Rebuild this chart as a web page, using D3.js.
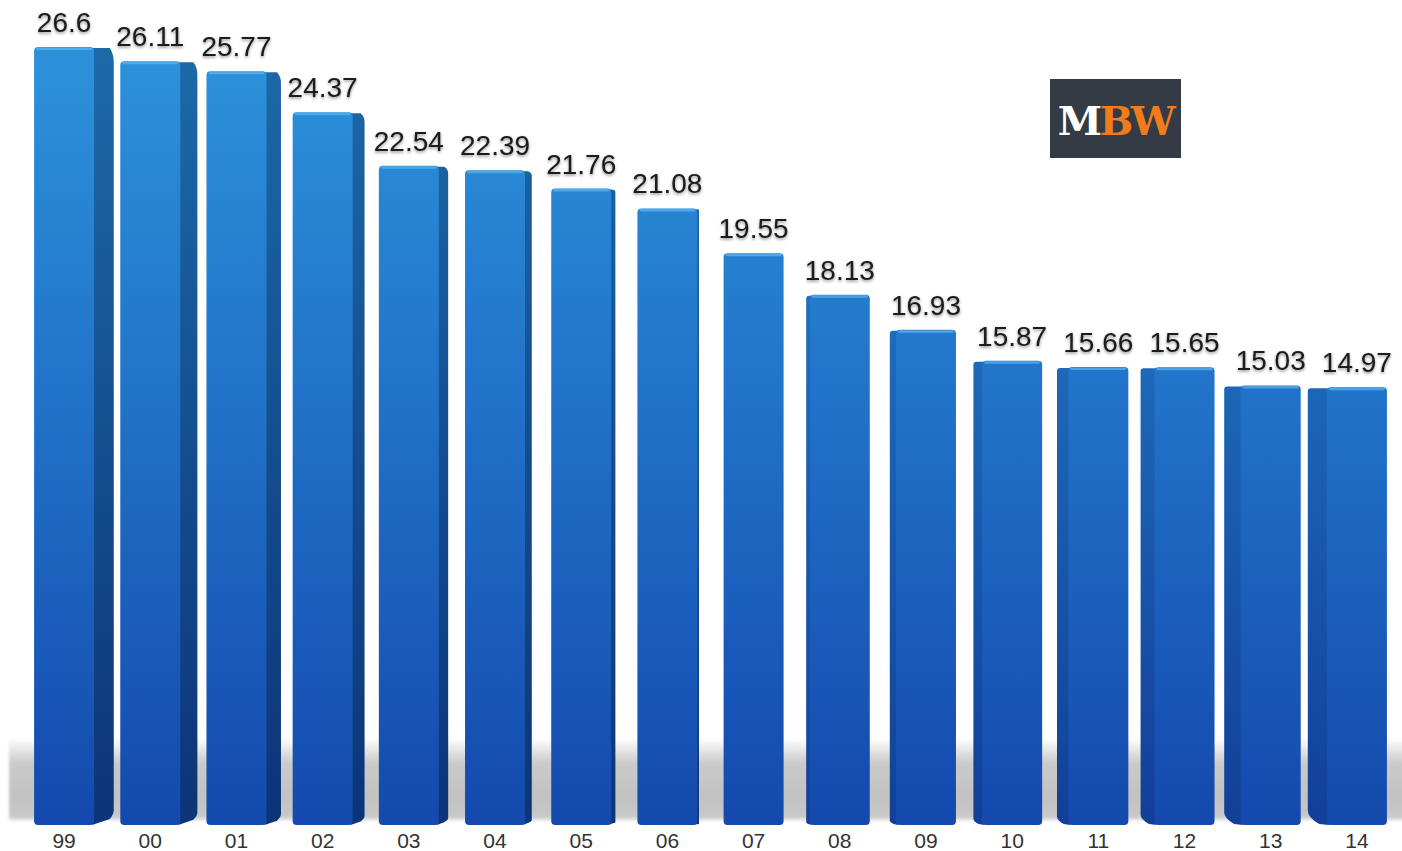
<!DOCTYPE html>
<html><head><meta charset="utf-8">
<script src="https://cdn.jsdelivr.net/npm/d3@7"></script>
<style>html,body{margin:0;padding:0;background:#fff;}svg{display:block;}</style>
</head><body>
<svg id="chart" width="1402" height="851"></svg>
<script>
const categories = ["99","00","01","02","03","04","05","06","07","08","09","10","11","12","13","14"];
const values = [26.6,26.11,25.77,24.37,22.54,22.39,21.76,21.08,19.55,18.13,16.93,15.87,15.66,15.65,15.03,14.97];
const valueLabels = ["26.6","26.11","25.77","24.37","22.54","22.39","21.76","21.08","19.55","18.13","16.93","15.87","15.66","15.65","15.03","14.97"];

const W = 1402, H = 851, base = 825;
const svg = d3.select("#chart");
const defs = svg.append("defs");

const x = d3.scaleBand().domain(categories).range([21, 1400]).padding(0);
const y = d3.scaleLinear().domain([0, 26.6]).range([base, 47]);

// gradients
const gFront = defs.append("linearGradient").attr("id","gFront").attr("gradientUnits","userSpaceOnUse")
  .attr("x1",0).attr("x2",0).attr("y1", 40).attr("y2", base);
gFront.append("stop").attr("offset","0%").attr("stop-color","#2d93dc");
gFront.append("stop").attr("offset","45%").attr("stop-color","#2173c9");
gFront.append("stop").attr("offset","100%").attr("stop-color","#1449ad");
const gSide = defs.append("linearGradient").attr("id","gSide").attr("gradientUnits","userSpaceOnUse").attr("x1",0).attr("x2",0).attr("y1",40).attr("y2",base);
gSide.append("stop").attr("offset","0%").attr("stop-color","#1d6aa8");
gSide.append("stop").attr("offset","100%").attr("stop-color","#0c3478");
const gSideR = defs.append("linearGradient").attr("id","gSideR").attr("gradientUnits","userSpaceOnUse").attr("x1",0).attr("x2",0).attr("y1",40).attr("y2",base);
gSideR.append("stop").attr("offset","0%").attr("stop-color","#2586d0");
gSideR.append("stop").attr("offset","100%").attr("stop-color","#123f98");

// floor shadow
const gFloor = defs.append("linearGradient").attr("id","gFloor").attr("x1",0).attr("x2",0).attr("y1",0).attr("y2",1);
gFloor.append("stop").attr("offset","0%").attr("stop-color","#ffffff");
gFloor.append("stop").attr("offset","30%").attr("stop-color","#cacaca");
gFloor.append("stop").attr("offset","70%").attr("stop-color","#c2c2c2");
gFloor.append("stop").attr("offset","94%").attr("stop-color","#c8c8c8");
gFloor.append("stop").attr("offset","100%").attr("stop-color","#ffffff");
const fBlur = defs.append("filter").attr("id","fBlur").attr("x","-5%").attr("y","-10%").attr("width","110%").attr("height","120%");
fBlur.append("feGaussianBlur").attr("stdDeviation","1.5 1");
svg.append("rect").attr("x",9).attr("y",738).attr("width",1400).attr("height",84)
  .attr("fill","url(#gFloor)").attr("filter","url(#fBlur)");

// text shadow filter
const fText = defs.append("filter").attr("id","fText").attr("x","-20%").attr("y","-30%").attr("width","140%").attr("height","170%");
fText.append("feDropShadow").attr("dx",0).attr("dy",1.5).attr("stdDeviation",1.6).attr("flood-color","#000").attr("flood-opacity",0.45);

const camX = 720, k = 0.03, fw = 60;
const data = categories.map((c,i)=>({c, v: values[i], label: valueLabels[i]}));

const bars = svg.append("g").selectAll("g").data(data).join("g");

bars.each(function(d){
  const g = d3.select(this);
  const cx = x(d.c) + x.bandwidth()/2;
  const top = y(d.v);
  const fx = cx - fw/2;
  const s = Math.abs(cx - camX) * k;
  if (s > 1.5) {
    let p;
    if (cx < camX) {
      const x0 = fx + fw - 2, x1 = fx + fw + s;
      p = `M${x0},${top+1} L${x1-4},${top+1} Q${x1},${top+s*0.35} ${x1},${top+s*0.8} L${x1},${base - s*0.75} Q${x1},${base - s*0.55} ${x1-4},${base - s*0.3} L${x0},${base} Z`;
      g.append("path").attr("d",p).attr("fill","url(#gSide)");
    } else {
      const x0 = fx + 2, x1 = fx - s;
      p = `M${x0},${top+1} L${x1+3},${top+1} Q${x1},${top+1} ${x1},${top+4} L${x1},${base - s*0.75} Q${x1},${base - s*0.4} ${x1+s*0.6},${base-1} L${x0},${base} Z`;
      g.append("path").attr("d",p).attr("fill","url(#gSideR)");
    }
  }
  g.append("rect").attr("x",fx).attr("y",top).attr("width",fw).attr("height",base-top)
    .attr("rx",4).attr("ry",4).attr("fill","url(#gFront)");
  g.append("rect").attr("x",fx+2).attr("y",top+0.5).attr("width",fw-4).attr("height",2.5)
    .attr("rx",1.5).attr("fill","#5cb6f2").attr("opacity",0.7);
  g.append("text").attr("x",cx).attr("y",top-15).attr("text-anchor","middle")
    .attr("font-family","'Liberation Sans', Arial, Helvetica, sans-serif").attr("font-size",28)
    .attr("fill","#1a1a1a").attr("filter","url(#fText)").text(d.label);
});

// category axis labels
const xAxis = d3.axisBottom(x).tickSize(0).tickPadding(0);
const ax = svg.append("g").attr("transform",`translate(0,${base+8})`).call(xAxis);
ax.select(".domain").remove();
ax.selectAll("text").attr("font-family","'Liberation Sans', Arial, Helvetica, sans-serif")
  .attr("font-size",21).attr("fill","#333").attr("dy","0.71em");

// logo
const logo = svg.append("g");
logo.append("rect").attr("x",1050).attr("y",79).attr("width",131).attr("height",79).attr("fill","#343b44");
const lt = logo.append("text").attr("x",1115.5).attr("y",135).attr("text-anchor","middle")
  .attr("font-family","'DejaVu Serif', 'Liberation Serif', serif").attr("font-weight","bold")
  .attr("font-size",40).attr("letter-spacing",-2.5);
lt.append("tspan").attr("fill","#ffffff").text("M");
lt.append("tspan").attr("fill","#f07c1c").text("BW");
</script>
</body></html>
